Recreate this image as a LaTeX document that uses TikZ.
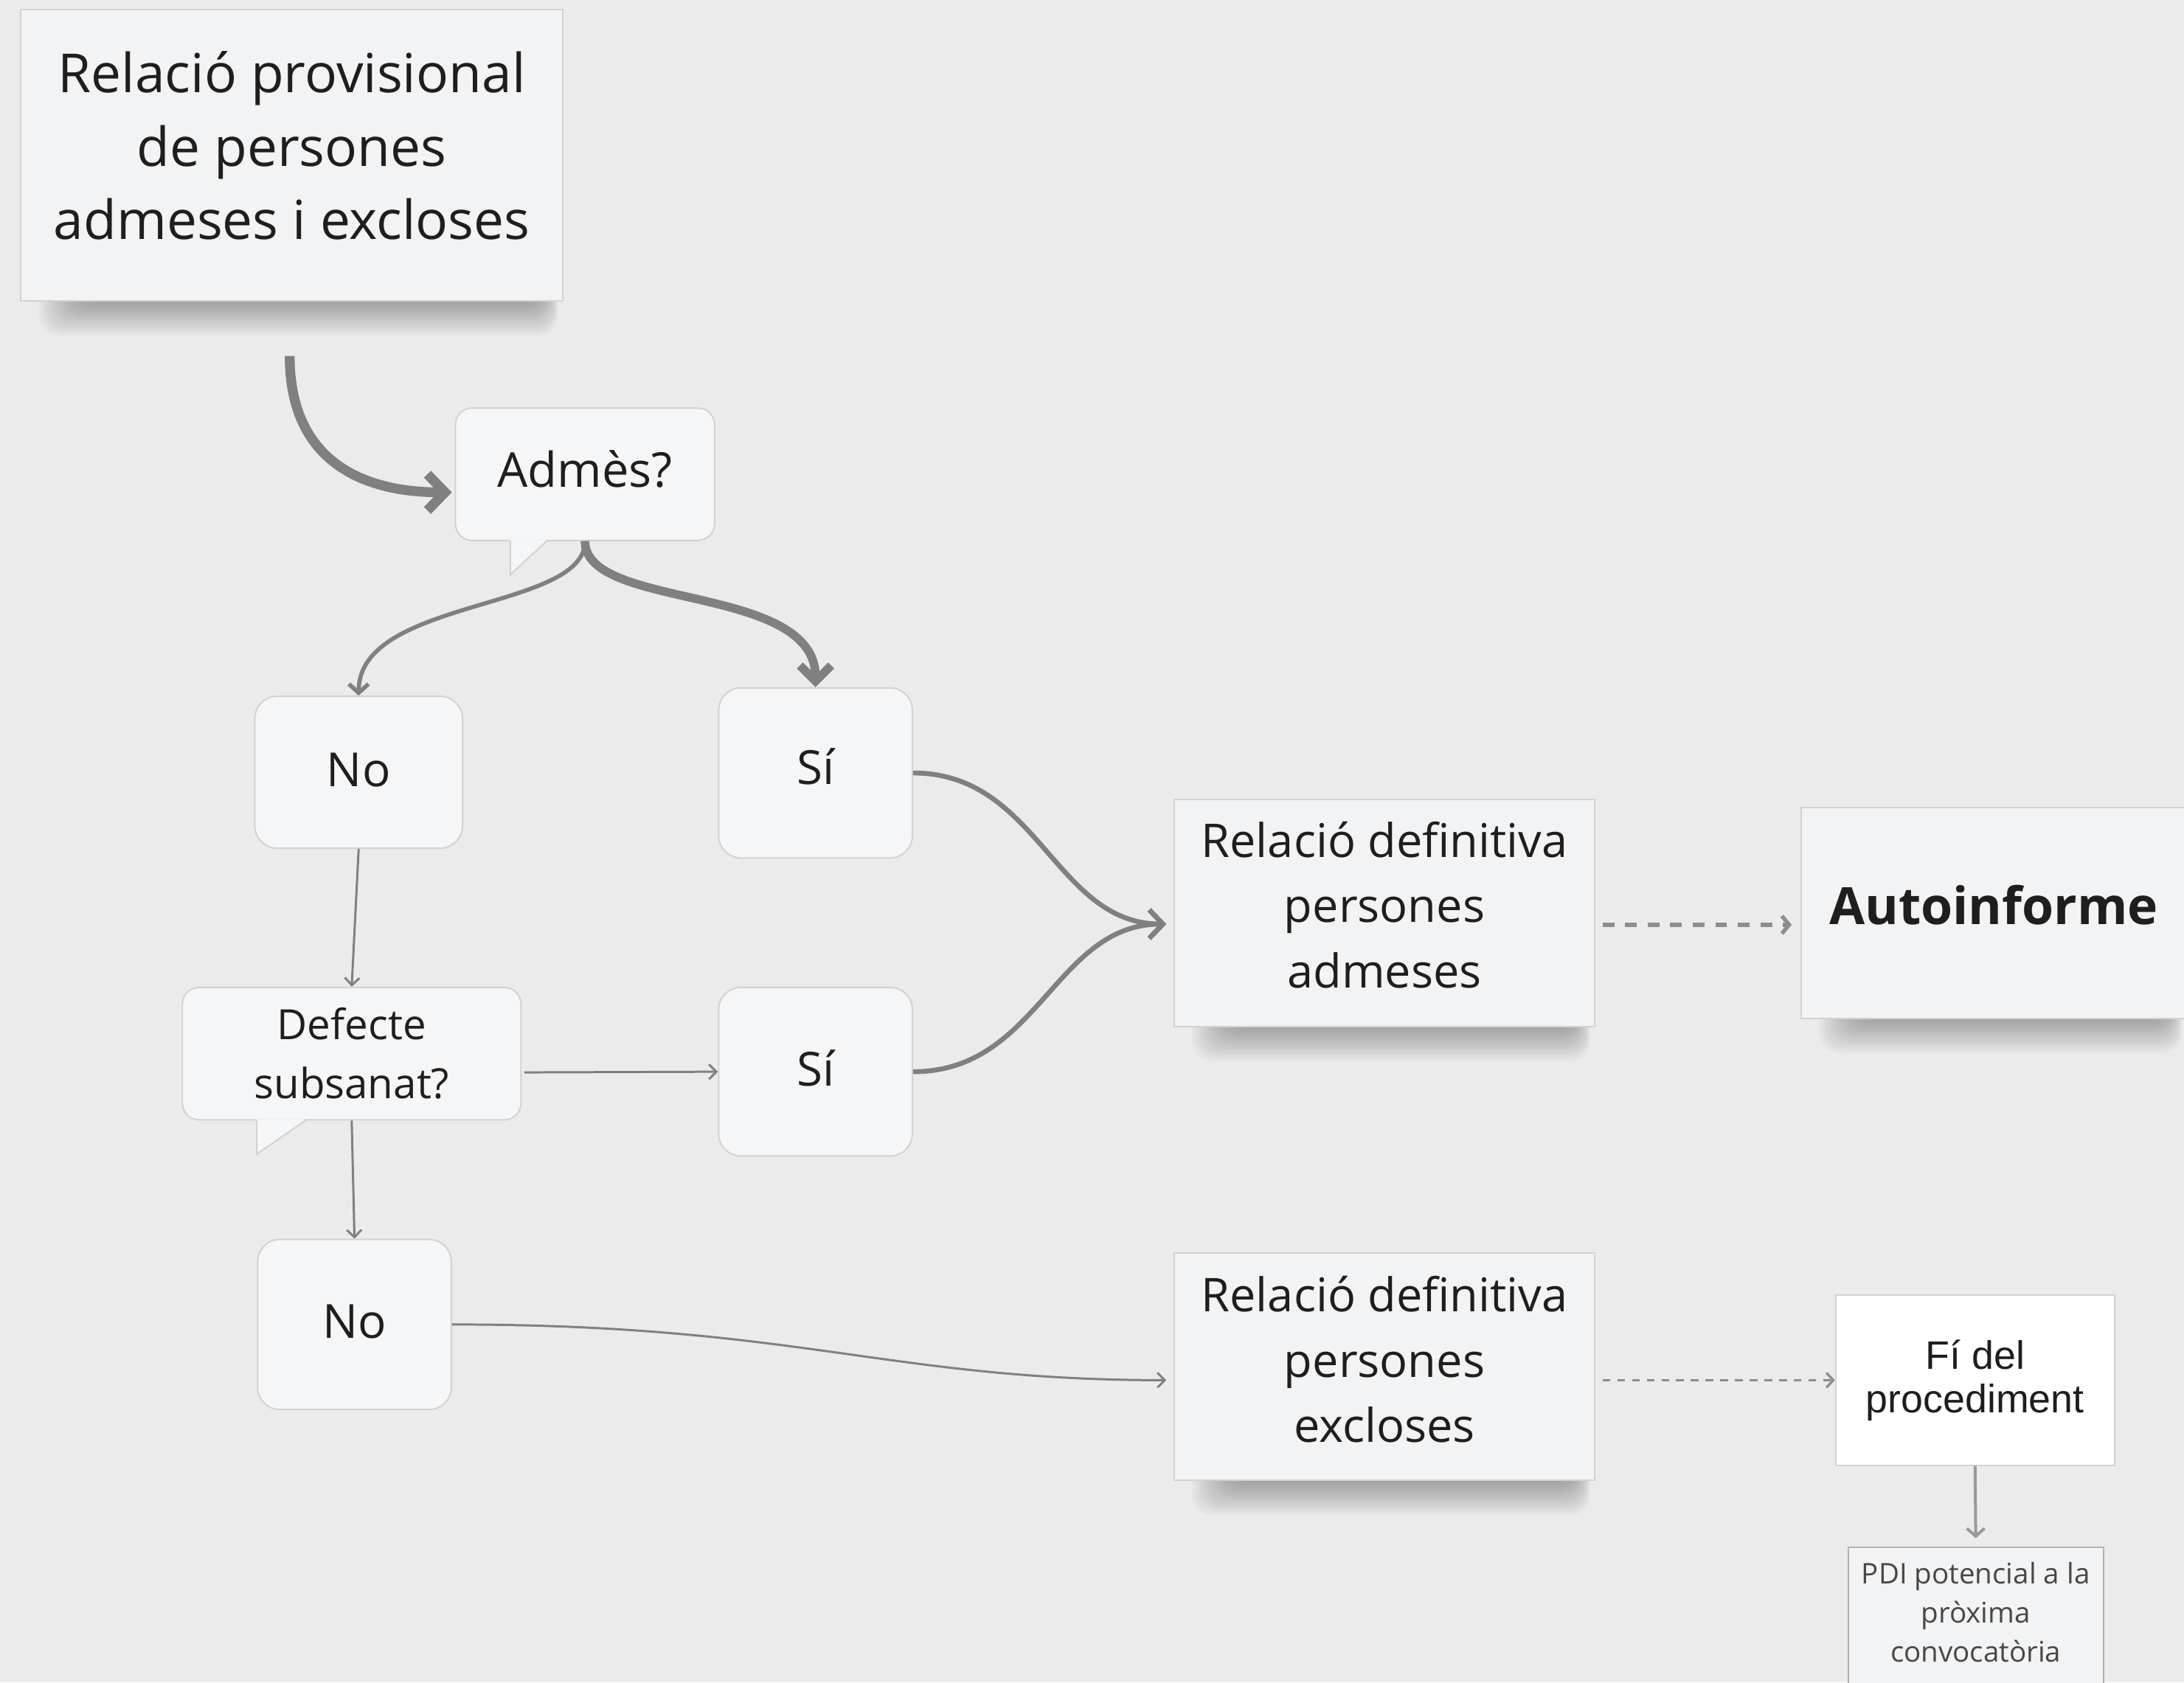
\documentclass[tikz,border=0pt]{standalone}
\usepackage{fontspec}
\setmainfont{Open Sans}
\newfontfamily\arialfont{Liberation Sans}
\usetikzlibrary{arrows.meta,calc}
\pgfdeclarelayer{bglayer}
\pgfdeclarelayer{shadowlayer}
\pgfsetlayers{bglayer,shadowlayer,main}
\definecolor{bgc}{HTML}{EBEBEB}
\definecolor{paperfill}{HTML}{F2F3F5}
\definecolor{bubblefill}{HTML}{F5F6F8}
\definecolor{edgec}{HTML}{D2D2D2}
\definecolor{linec}{HTML}{808080}
\definecolor{txt}{HTML}{1E1E1E}
\newcommand\papershadow[1]{%
  \begin{pgfonlayer}{shadowlayer}
    \foreach \i in {0,...,11}{%
      \fill[black,opacity=0.026,rounded corners=0.14cm]
        ($(#1.south west)+(40-2.4*\i,-14)$) rectangle ($(#1.south east)+(-14+0.9*\i,1+2.1*\i)$);}
  \end{pgfonlayer}}
\tikzset{
  paper/.style={rectangle,fill=paperfill,draw=edgec,line width=0.3pt,inner sep=0pt,align=center,text=txt},
  rbox/.style={rectangle,rounded corners=0.16cm,fill=bubblefill,draw=edgec,line width=0.3pt,inner sep=0pt,align=center,text=txt},
  bubble/.style={rbox,rounded corners=0.12cm},
  conn thin/.style={draw=linec,line width=0.45pt,-{Straight Barb[length=1.5pt,width=3pt]}},
  conn mid/.style={draw=linec,line width=0.85pt,-{Straight Barb[length=1.8pt,width=4pt]}},
  conn med/.style={draw=linec,line width=1pt,-{Straight Barb[length=2.8pt,width=5.8pt]}},
  conn thick/.style={draw=linec,line width=1.75pt,-{Straight Barb[length=3.2pt,width=6.4pt]}},
  conn xthick/.style={draw=linec,line width=2pt,-{Straight Barb[length=3.6pt,width=7.4pt]}},
  conn dash/.style={draw=linec!90,line width=0.8pt,dash pattern=on 2.4pt off 2.2pt,-{Straight Barb[length=1.5pt,width=3.6pt]}},
  conn dashthin/.style={draw=linec!90,line width=0.5pt,dash pattern=on 1.6pt off 1.4pt,-{Straight Barb[length=1.4pt,width=3pt]}},
  conn plain/.style={draw=linec!80,line width=0.6pt,-{Straight Barb[length=1.6pt,width=3.6pt]}},
}
\begin{document}
\begin{tikzpicture}[x=0.01cm,y=-0.01cm]
\useasboundingbox (0,0) rectangle (1568,1208);
\begin{pgfonlayer}{bglayer}
  \fill[bgc] (0,0) rectangle (1568,1208);
\end{pgfonlayer}

% nodes
\node[paper,minimum width=3.89cm,minimum height=2.09cm,text depth=0.14cm,font=\fontsize{11}{15}\selectfont] (prov) at (209.5,111.5) {Relació provisional\\de persones\\admeses i excloses};
\node[bubble,minimum width=1.86cm,minimum height=0.95cm,text depth=0.08cm,font=\fontsize{9.8}{12}\selectfont] (adm) at (420,340.5) {Admès?};
\node[rbox,minimum width=1.49cm,minimum height=1.09cm,text depth=0.04cm,font=\fontsize{9.6}{12}\selectfont] (no1) at (257.5,554.5) {No};
\node[rbox,minimum width=1.39cm,minimum height=1.22cm,text depth=0.1cm,font=\fontsize{9.6}{12}\selectfont] (si1) at (585.5,555) {Sí};
\node[bubble,minimum width=2.43cm,minimum height=0.95cm,font=\fontsize{8.5}{12}\selectfont] (def) at (252.5,756.5) {Defecte\\subsanat?};
\node[rbox,minimum width=1.39cm,minimum height=1.21cm,text depth=0.05cm,font=\fontsize{9.6}{12}\selectfont] (si2) at (585.5,769.5) {Sí};
\node[rbox,minimum width=1.39cm,minimum height=1.22cm,text depth=0.04cm,font=\fontsize{9.6}{12}\selectfont] (no2) at (254.5,951) {No};
\node[paper,minimum width=3.02cm,minimum height=1.63cm,text depth=0.12cm,font=\fontsize{9.5}{13.3}\selectfont] (reladm) at (994,655.5) {Relació definitiva\\persones\\admeses};
\node[paper,minimum width=2.77cm,minimum height=1.51cm,text depth=0.12cm,font=\fontsize{10.5}{13}\selectfont\bfseries] (auto) at (1431.5,655.5) {Autoinforme};
\node[paper,minimum width=3.02cm,minimum height=1.63cm,text depth=0.11cm,font=\fontsize{9.5}{13.3}\selectfont] (relexc) at (994,981.5) {Relació definitiva\\persones\\excloses};
\node[rectangle,fill=white,draw=edgec,line width=0.3pt,inner sep=0pt,align=center,text=txt,minimum width=2.0cm,minimum height=1.22cm,font=\arialfont\fontsize{8.1}{8.9}\selectfont] (fi) at (1418,991) {Fí del\\procediment};
\node[paper,draw=edgec!85!black,minimum width=1.83cm,minimum height=1.2cm,text depth=0.27cm,text=black!72,font=\fontsize{5.8}{8}\selectfont] (pdi) at (1418.5,1171) {PDI potencial a la\\pròxima\\convocatòria};

% shadows
\papershadow{prov}
\papershadow{reladm}
\papershadow{auto}
\papershadow{relexc}

% bubble tails
\fill[bubblefill] ($(adm.south west)+(40,-1)$) -- ($(adm.south west)+(40,24)$) -- ($(adm.south west)+(66,-1)$) -- cycle;
\draw[edgec,line width=0.3pt] ($(adm.south west)+(40,0)$) -- ($(adm.south west)+(40,24)$) -- ($(adm.south west)+(66,0)$);
\fill[bubblefill] ($(def.south west)+(54,-1)$) -- ($(def.south west)+(54,24)$) -- ($(def.south west)+(89,-1)$) -- cycle;
\draw[edgec,line width=0.3pt] ($(def.south west)+(54,0)$) -- ($(def.south west)+(54,24)$) -- ($(def.south west)+(89,0)$);

% connectors
\draw[conn xthick] ($(prov.south)+(-1.5,39)$) .. controls +(0,75) and +(-65,0) .. ($(adm.west)+(-2,13)$);
\draw[conn mid] (adm.south) .. controls +(0,50) and +(0,-70) .. (no1.north);
\draw[conn thick] (adm.south) .. controls +(0,50) and +(0,-75) .. (si1.north);
\draw[conn med] (si1.east) .. controls +(90,0) and +(-80,0) .. ($(reladm.west)+(-5,8)$);
\draw[conn med] (si2.east) .. controls +(90,0) and +(-80,0) .. ($(reladm.west)+(-5,8)$);
\draw[conn thin] (no1.south) -- (def.north);
\draw[conn thin] ($(def.east)+(2,13.5)$) -- (si2.west);
\draw[conn thin] (def.south) -- (no2.north);
\draw[conn thin] (no2.east) .. controls +(250,0) and +(-200,0) .. ($(relexc.west)+(-5,9.5)$);
\draw[conn dash] ($(reladm.east)+(5,8.5)$) -- ($(auto.west)+(-6,8.5)$);
\draw[conn dashthin] ($(relexc.east)+(5,9.5)$) -- (fi.west);
\draw[conn plain] (fi.south) -- ($(pdi.north)+(0,-6)$);
\end{tikzpicture}
\end{document}
